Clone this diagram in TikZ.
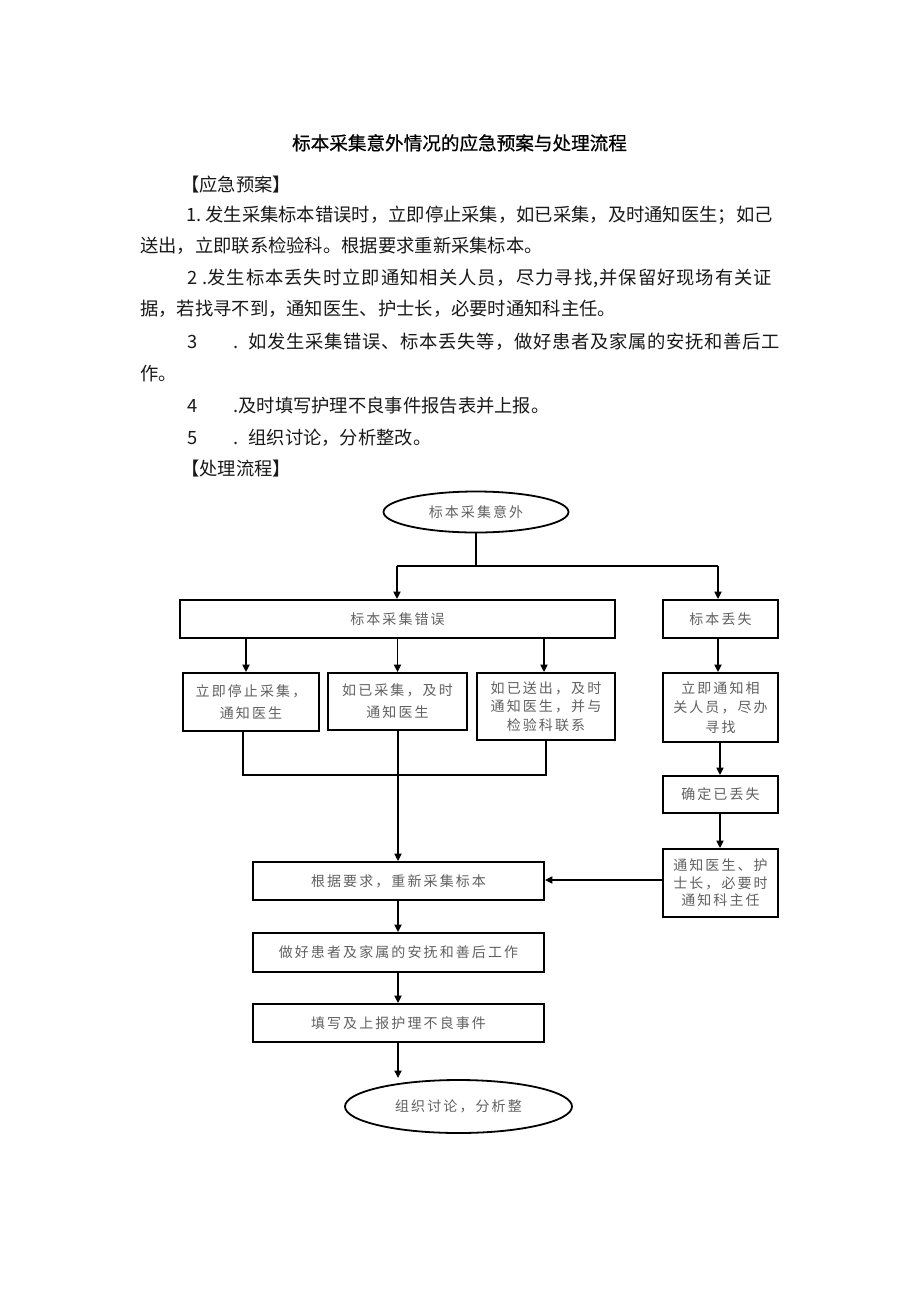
\documentclass[tikz,border=0pt]{standalone}
\usepackage{fontspec}
\newfontfamily\cjk{Noto Sans CJK SC}
\newfontfamily\cjktitle[FakeBold=0.6]{Noto Sans CJK SC}
\newfontfamily\cjkbox[LetterSpace=15]{Noto Sans CJK SC}
\usetikzlibrary{arrows.meta,shapes.geometric}
% spread characters evenly over a given width
\def\jstfirst#1{#1\jstrest}
\def\jstrest#1{\ifx#1\relax\else\hfil#1\expandafter\jstrest\fi}
\newcommand\spreadline[3]{\hbox to #1{#2\jstfirst#3\relax}}
\tikzset{
  stepbox/.style={draw, rectangle, line width=1.8pt, inner sep=0pt, align=center,
    font=\cjkbox\fontsize{14}{19}\selectfont, text=black!62},
  ovalbox/.style={draw, ellipse, line width=1.8pt, inner sep=0pt, align=center,
    font=\cjkbox\fontsize{14}{19}\selectfont, text=black!62},
  arr/.style={-{Triangle[length=7.5pt,width=7pt]}, line width=1.8pt},
  ln/.style={line width=1.8pt},
  bodytext/.style={anchor=base west, inner sep=0pt, font=\cjk\fontsize{18.3}{22}\selectfont, text=black!90},
}
\begin{document}
\begin{tikzpicture}[x=1pt,y=-1pt]
\fill[white] (0,0) rectangle (920,1301);
\useasboundingbox (0,0) rectangle (920,1301);

% ---------- text ----------
\node[anchor=base, inner sep=0pt, font=\cjktitle\fontsize{18.6}{22}\selectfont] (title) at (459.5,150) {标本采集意外情况的应急预案与处理流程};
\node[bodytext] (h1) at (181,191) {【应急预案】};
\node[bodytext] (t1) at (186,221) {\spreadline{586pt}{1.\hspace{4pt}}{发生采集标本错误时，立即停止采集，如已采集，及时通知医生；如己}};
\node[bodytext] (t1b) at (140,252) {送出，立即联系检验科。根据要求重新采集标本。};
\node[bodytext] (t2) at (187,284) {\spreadline{585pt}{2\hspace{5pt}.}{发生标本丢失时立即通知相关人员，尽力寻找,并保留好现场有关证}};
\node[bodytext] (t2b) at (140,315) {据，若找寻不到，通知医生、护士长，必要时通知科主任。};
\node[bodytext] (t3) at (187,348) {\spreadline{593pt}{3\hspace{36pt}.\hspace{10pt}}{如发生采集错误、标本丢失等，做好患者及家属的安抚和善后工}};
\node[bodytext] (t3b) at (140,380) {作。};
\node[bodytext] (t4) at (187,412) {4\hspace{36pt}.及时填写护理不良事件报告表并上报。};
\node[bodytext] (t5) at (187,444) {5\hspace{36pt}.\hspace{10pt}组织讨论，分析整改。};
\node[bodytext] (h2) at (181,475) {【处理流程】};

% ---------- flowchart nodes ----------
\node[ovalbox, minimum width=185pt, minimum height=41pt] (start) at (476,512) {标本采集意外};
\node[stepbox, minimum width=435pt, minimum height=38pt] (err) at (397.5,619) {标本采集错误};
\node[stepbox, minimum width=115pt, minimum height=38pt] (lost) at (720.5,619) {标本丢失};

\node[stepbox, minimum width=136pt, minimum height=58pt] (c1) at (251,702) {立即停止采集，\\[3pt]通知医生};
\node[stepbox, minimum width=139pt, minimum height=57pt] (c2) at (397.5,701.5) {如已采集，及时\\[3pt]通知医生};
\node[stepbox, minimum width=138pt, minimum height=67pt, font=\cjkbox\fontsize{14}{18.5}\selectfont] (c3) at (546,706.5) {如已送出，及时\\通知医生，并与\\检验科联系};

\node[stepbox, minimum width=115pt, minimum height=69pt, font=\cjkbox\fontsize{14}{19.5}\selectfont] (l1) at (720.5,707.5) {立即通知相\\关人员，尽办\\寻找};
\node[stepbox, minimum width=115pt, minimum height=37pt] (l2) at (720.5,794.5) {确定已丢失};
\node[stepbox, minimum width=115pt, minimum height=68pt, font=\cjkbox\fontsize{14}{17.5}\selectfont] (l3) at (720.5,883) {通知医生、护\\士长，必要时\\通知科主任};

\node[stepbox, minimum width=291pt, minimum height=38pt] (r1) at (398.5,881) {根据要求，重新采集标本};
\node[stepbox, minimum width=291pt, minimum height=39pt] (r2) at (398.5,952.5) {做好患者及家属的安抚和善后工作};
\node[stepbox, minimum width=291pt, minimum height=38pt] (r3) at (398.5,1023) {填写及上报护理不良事件};
\node[ovalbox, minimum width=227pt, minimum height=53pt] (fin) at (458.5,1106.5) {组织讨论，分析整};

% ---------- junction coordinates ----------
\coordinate (j0) at (476,566);
\coordinate (jl) at (397,566);
\coordinate (jr) at (718,566);
\coordinate (m1) at (243,775);
\coordinate (m3) at (546,775);
\coordinate (ftop) at (398,1078);

% ---------- connectors ----------
\draw[ln] (start.south) -- (j0);
\draw[ln] (jl) -- (jr);
\draw[arr] (jl) -- (jl |- err.north);
\draw[arr] (jr) -- (jr |- lost.north);

\draw[arr] (err.south -| 246,0) -- (c1.north -| 246,0);
\draw[arr] (err.south -| c2.north) -- (c2.north);
\draw[arr] (err.south -| 544,0) -- (c3.north -| 544,0);

\draw[ln] (c1.south -| m1) -- (m1) -- (m3) -- (c3.south -| m3);
\draw[arr] (c2.south -| 398,0) -- (r1.north -| 398,0);

\draw[arr] (lost.south -| 718,0) -- (l1.north -| 718,0);
\draw[arr] (l1.south -| 720,0) -- (l2.north -| 720,0);
\draw[arr] (l2.south -| 720,0) -- (l3.north -| 720,0);
\draw[arr] (l3.west |- 0,880) -- (r1.east |- 0,880);

\draw[arr] (r1.south -| 398,0) -- (r2.north -| 398,0);
\draw[arr] (r2.south -| 398,0) -- (r3.north -| 398,0);
\draw[arr] (r3.south -| ftop) -- (ftop);
\end{tikzpicture}
\end{document}
